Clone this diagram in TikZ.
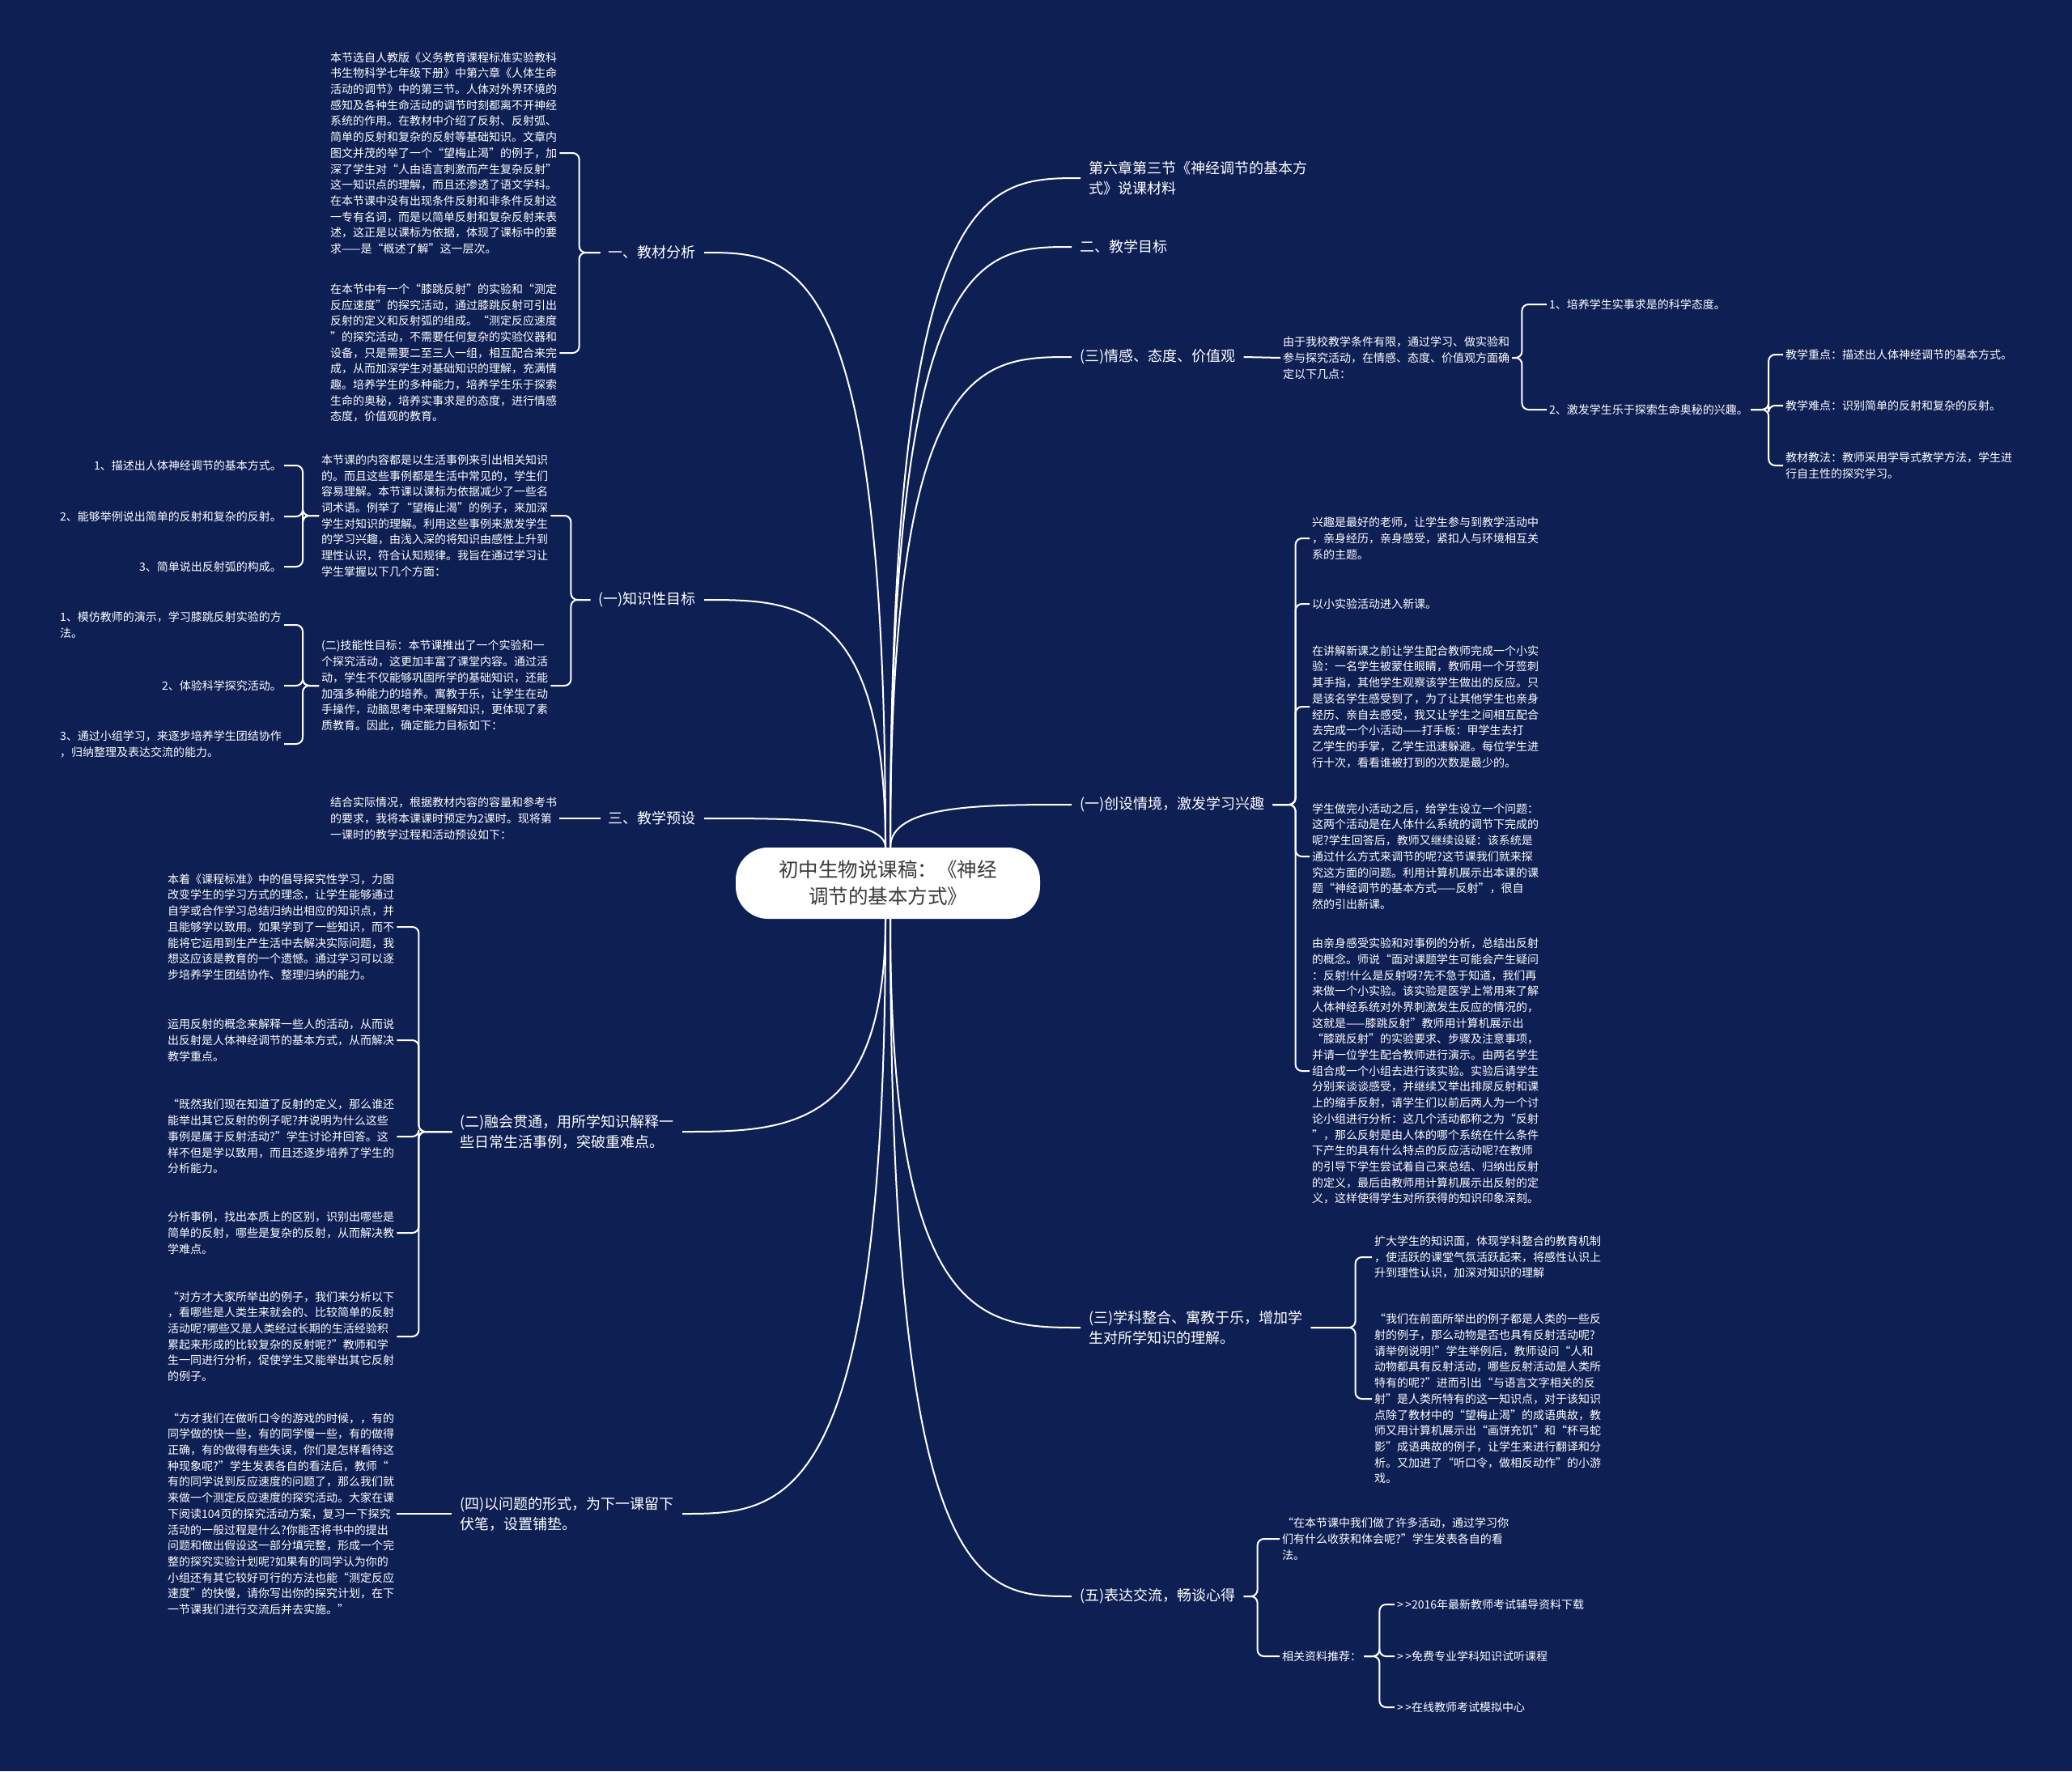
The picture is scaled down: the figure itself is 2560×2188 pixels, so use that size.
\documentclass[tikz,border=0pt]{standalone}
\usepackage{fontspec}
\setmainfont{Noto Sans CJK SC}
\usetikzlibrary{calc}
\definecolor{bg}{RGB}{14,31,84}
\definecolor{ink}{RGB}{58,58,58}

\tikzset{
  txt/.style={text=white, align=left, inner xsep=3pt, inner ysep=0pt, font=\fontsize{14}{19.7}\selectfont},
  lbl/.style={text=white, align=left, inner xsep=10pt, inner ysep=2pt, font=\fontsize{18}{25}\selectfont},
  link/.style={draw=white, line width=2pt},
  fork/.style={link, rounded corners=8pt},
  limb/.style={link, to path={.. controls (\tikztostart |- \tikztotarget) and ($(\tikztostart |- \tikztotarget)!.5!(\tikztotarget)$) .. (\tikztotarget)}}
}

\begin{document}
\begin{tikzpicture}[x=1pt,y=1pt]
\fill[bg] (0,0) rectangle (2560,-2188);

\node[fill=white, rounded corners=40pt, minimum width=376pt, minimum height=88pt, text=ink, align=center, font=\fontsize{24.5}{33}\selectfont] (root) at (1097,-1091) {初中生物说课稿：《神经\\调节的基本方式》};
\coordinate[xshift=-3pt] (ul) at (root.north);
\coordinate[xshift=3pt] (ur) at (root.north);
\coordinate[xshift=-3pt] (dl) at (root.south);
\coordinate[xshift=3pt] (dr) at (root.south);

\node[lbl, anchor=east] (jc) at (870,-312) {一、教材分析};
\node[txt, anchor=west] (jc1) at (405,-189) {本节选自人教版《义务教育课程标准实验教科\\书生物科学七年级下册》中第六章《人体生命\\活动的调节》中的第三节。人体对外界环境的\\感知及各种生命活动的调节时刻都离不开神经\\系统的作用。在教材中介绍了反射、反射弧、\\简单的反射和复杂的反射等基础知识。文章内\\图文并茂的举了一个“望梅止渴”的例子，加\\深了学生对“人由语言刺激而产生复杂反射”\\这一知识点的理解，而且还渗透了语文学科。\\在本节课中没有出现条件反射和非条件反射这\\一专有名词，而是以简单反射和复杂反射来表\\述，这正是以课标为依据，体现了课标中的要\\求——是“概述了解”这一层次。};
\node[txt, anchor=west] (jc2) at (405,-436) {在本节中有一个“膝跳反射”的实验和“测定\\反应速度”的探究活动，通过膝跳反射可引出\\反射的定义和反射弧的组成。“测定反应速度\\”的探究活动，不需要任何复杂的实验仪器和\\设备，只是需要二至三人一组，相互配合来完\\成，从而加深学生对基础知识的理解，充满情\\趣。培养学生的多种能力，培养学生乐于探索\\生命的奥秘，培养实事求是的态度，进行情感\\态度，价值观的教育。};

\node[lbl, anchor=east] (zs) at (870,-741) {(一)知识性目标};
\node[txt, anchor=west] (zs1) at (394,-637) {本节课的内容都是以生活事例来引出相关知识\\的。而且这些事例都是生活中常见的，学生们\\容易理解。本节课以课标为依据减少了一些名\\词术语。例举了“望梅止渴”的例子，来加深\\学生对知识的理解。利用这些事例来激发学生\\的学习兴趣，由浅入深的将知识由感性上升到\\理性认识，符合认知规律。我旨在通过学习让\\学生掌握以下几个方面：};
\node[txt, anchor=west] (zs2) at (394,-847) {(二)技能性目标：本节课推出了一个实验和一\\个探究活动，这更加丰富了课堂内容。通过活\\动，学生不仅能够巩固所学的基础知识，还能\\加强多种能力的培养。寓教于乐，让学生在动\\手操作，动脑思考中来理解知识，更体现了素\\质教育。因此，确定能力目标如下：};
\node[txt, anchor=east] (zs1a) at (351,-575) {1、描述出人体神经调节的基本方式。};
\node[txt, anchor=east] (zs1b) at (351,-638) {2、能够举例说出简单的反射和复杂的反射。};
\node[txt, anchor=east] (zs1c) at (351,-700) {3、简单说出反射弧的构成。};
\node[txt, anchor=east] (zs2a) at (351,-772) {1、模仿教师的演示，学习膝跳反射实验的方\\法。};
\node[txt, anchor=east] (zs2b) at (351,-847) {2、体验科学探究活动。};
\node[txt, anchor=east] (zs2c) at (351,-919) {3、通过小组学习，来逐步培养学生团结协作\\，归纳整理及表达交流的能力。};

\node[lbl, anchor=east] (ys) at (870,-1011) {三、教学预设};
\node[txt, anchor=west] (ys1) at (405,-1011) {结合实际情况，根据教材内容的容量和参考书\\的要求，我将本课课时预定为2课时。现将第\\一课时的教学过程和活动预设如下：};

\node[lbl, anchor=east] (rh) at (843,-1398) {(二)融会贯通，用所学知识解释一\\些日常生活事例，突破重难点。};
\node[txt, anchor=west] (rh1) at (204,-1145) {本着《课程标准》中的倡导探究性学习，力图\\改变学生的学习方式的理念，让学生能够通过\\自学或合作学习总结归纳出相应的知识点，并\\且能够学以致用。如果学到了一些知识，而不\\能将它运用到生产生活中去解决实际问题，我\\想这应该是教育的一个遗憾。通过学习可以逐\\步培养学生团结协作、整理归纳的能力。};
\node[txt, anchor=west] (rh2) at (204,-1285) {运用反射的概念来解释一些人的活动，从而说\\出反射是人体神经调节的基本方式，从而解决\\教学重点。};
\node[txt, anchor=west] (rh3) at (204,-1404) {“既然我们现在知道了反射的定义，那么谁还\\能举出其它反射的例子呢?并说明为什么这些\\事例是属于反射活动?”学生讨论并回答。这\\样不但是学以致用，而且还逐步培养了学生的\\分析能力。};
\node[txt, anchor=west] (rh4) at (204,-1523) {分析事例，找出本质上的区别，识别出哪些是\\简单的反射，哪些是复杂的反射，从而解决教\\学难点。};
\node[txt, anchor=west] (rh5) at (204,-1651) {“对方才大家所举出的例子，我们来分析以下\\，看哪些是人类生来就会的、比较简单的反射\\活动呢?哪些又是人类经过长期的生活经验积\\累起来形成的比较复杂的反射呢?”教师和学\\生一同进行分析，促使学生又能举出其它反射\\的例子。};

\node[lbl, anchor=east] (wt) at (843,-1870) {(四)以问题的形式，为下一课留下\\伏笔，设置铺垫。};
\node[txt, anchor=west] (wt1) at (204,-1870) {“方才我们在做听口令的游戏的时候，，有的\\同学做的快一些，有的同学慢一些，有的做得\\正确，有的做得有些失误，你们是怎样看待这\\种现象呢?”学生发表各自的看法后，教师“\\有的同学说到反应速度的问题了，那么我们就\\来做一个测定反应速度的探究活动。大家在课\\下阅读104页的探究活动方案，复习一下探究\\活动的一般过程是什么?你能否将书中的提出\\问题和做出假设这一部分填完整，形成一个完\\整的探究实验计划呢?如果有的同学认为你的\\小组还有其它较好可行的方法也能“测定反应\\速度”的快慢，请你写出你的探究计划，在下\\一节课我们进行交流后并去实施。”};

\node[lbl, anchor=west] (sc) at (1335,-220) {第六章第三节《神经调节的基本方\\式》说课材料};
\node[lbl, anchor=west] (mb) at (1324,-305) {二、教学目标};

\node[lbl, anchor=west] (qg) at (1324,-441) {(三)情感、态度、价值观};
\node[txt, anchor=west] (qg1) at (1582,-442) {由于我校教学条件有限，通过学习、做实验和\\参与探究活动，在情感、态度、价值观方面确\\定以下几点：};
\node[txt, anchor=west] (qg1a) at (1911,-376) {1、培养学生实事求是的科学态度。};
\node[txt, anchor=west] (qg1b) at (1911,-506) {2、激发学生乐于探索生命奥秘的兴趣。};
\node[txt, anchor=west] (qg1b1) at (2203,-438) {教学重点：描述出人体神经调节的基本方式。};
\node[txt, anchor=west] (qg1b2) at (2203,-501) {教学难点：识别简单的反射和复杂的反射。};
\node[txt, anchor=west] (qg1b3) at (2203,-575) {教材教法：教师采用学导式教学方法，学生进\\行自主性的探究学习。};

\node[lbl, anchor=west] (cs) at (1324,-994) {(一)创设情境，激发学习兴趣};
\node[txt, anchor=west] (cs1) at (1618,-665) {兴趣是最好的老师，让学生参与到教学活动中\\，亲身经历，亲身感受，紧扣人与环境相互关\\系的主题。};
\node[txt, anchor=west] (cs2) at (1618,-746) {以小实验活动进入新课。};
\node[txt, anchor=west] (cs3) at (1618,-873) {在讲解新课之前让学生配合教师完成一个小实\\验：一名学生被蒙住眼睛，教师用一个牙签刺\\其手指，其他学生观察该学生做出的反应。只\\是该名学生感受到了，为了让其他学生也亲身\\经历、亲自去感受，我又让学生之间相互配合\\去完成一个小活动——打手板：甲学生去打\\乙学生的手掌，乙学生迅速躲避。每位学生进\\行十次，看看谁被打到的次数是最少的。};
\node[txt, anchor=west] (cs4) at (1618,-1058) {学生做完小活动之后，给学生设立一个问题：\\这两个活动是在人体什么系统的调节下完成的\\呢?学生回答后，教师又继续设疑：该系统是\\通过什么方式来调节的呢?这节课我们就来探\\究这方面的问题。利用计算机展示出本课的课\\题“神经调节的基本方式——反射”，很自\\然的引出新课。};
\node[txt, anchor=west] (cs5) at (1618,-1323) {由亲身感受实验和对事例的分析，总结出反射\\的概念。师说“面对课题学生可能会产生疑问\\：反射!什么是反射呀?先不急于知道，我们再\\来做一个小实验。该实验是医学上常用来了解\\人体神经系统对外界刺激发生反应的情况的，\\这就是——膝跳反射”教师用计算机展示出\\“膝跳反射”的实验要求、步骤及注意事项，\\并请一位学生配合教师进行演示。由两名学生\\组合成一个小组去进行该实验。实验后请学生\\分别来谈谈感受，并继续又举出排尿反射和课\\上的缩手反射，请学生们以前后两人为一个讨\\论小组进行分析：这几个活动都称之为“反射\\”，那么反射是由人体的哪个系统在什么条件\\下产生的具有什么特点的反应活动呢?在教师\\的引导下学生尝试着自己来总结、归纳出反射\\的定义，最后由教师用计算机展示出反射的定\\义，这样使得学生对所获得的知识印象深刻。};

\node[lbl, anchor=west] (xk) at (1335,-1640) {(三)学科整合、寓教于乐，增加学\\生对所学知识的理解。};
\node[txt, anchor=west] (xk1) at (1695,-1553) {扩大学生的知识面，体现学科整合的教育机制\\，使活跃的课堂气氛活跃起来，将感性认识上\\升到理性认识，加深对知识的理解};
\node[txt, anchor=west] (xk2) at (1695,-1728) {“我们在前面所举出的例子都是人类的一些反\\射的例子，那么动物是否也具有反射活动呢?\\请举例说明!”学生举例后，教师设问“人和\\动物都具有反射活动，哪些反射活动是人类所\\特有的呢?”进而引出“与语言文字相关的反\\射”是人类所特有的这一知识点，对于该知识\\点除了教材中的“望梅止渴”的成语典故，教\\师又用计算机展示出“画饼充饥”和“杯弓蛇\\影”成语典故的例子，让学生来进行翻译和分\\析。又加进了“听口令，做相反动作”的小游\\戏。};

\node[lbl, anchor=west] (jl) at (1324,-1972) {(五)表达交流，畅谈心得};
\node[txt, anchor=west] (jl1) at (1581,-1901) {“在本节课中我们做了许多活动，通过学习你\\们有什么收获和体会呢?”学生发表各自的看\\法。};
\node[txt, anchor=west] (jl2) at (1581,-2046) {相关资料推荐：};
\node[txt, anchor=west] (jl2a) at (1723,-1982) {>{}\,>{}2016年最新教师考试辅导资料下载};
\node[txt, anchor=west] (jl2b) at (1723,-2046) {>{}\,>{}免费专业学科知识试听课程};
\node[txt, anchor=west] (jl2c) at (1723,-2109) {>{}\,>{}在线教师考试模拟中心};

\foreach \nd in {jc,zs,ys} \draw[limb] (ul) to (\nd.east);
\foreach \nd in {rh,wt} \draw[limb] (dl) to (\nd.east);
\foreach \nd in {sc,mb,qg,cs} \draw[limb] (ur) to (\nd.west);
\foreach \nd in {xk,jl} \draw[limb] (dr) to (\nd.west);

\foreach \ch in {jc1,jc2} \draw[fork] (jc.west) -- ++(-26,0) |- (\ch.east);
\foreach \ch in {zs1,zs2} \draw[fork] (zs.west) -- ++(-24,0) |- (\ch.east);
\foreach \ch in {zs1a,zs1b,zs1c} \draw[fork] (zs1.west) -- ++(-20,0) |- (\ch.east);
\foreach \ch in {zs2a,zs2b,zs2c} \draw[fork] (zs2.west) -- ++(-20,0) |- (\ch.east);
\draw[link] (ys.west) -- (ys1.east);
\foreach \ch in {rh1,rh2,rh3,rh4,rh5} \draw[fork] (rh.west) -- ++(-41,0) |- (\ch.east);
\draw[link] (wt.west) -- (wt1.east);
\draw[link] (qg.east) -- (qg1.west);
\foreach \ch in {qg1a,qg1b} \draw[fork] (qg1.east) -- ++(12,0) |- (\ch.west);
\foreach \ch in {qg1b1,qg1b2,qg1b3} \draw[fork] (qg1b.east) -- ++(22,0) |- (\ch.west);
\foreach \ch in {cs1,cs2,cs3,cs4,cs5} \draw[fork] (cs.east) -- ++(28,0) |- (\ch.west);
\foreach \ch in {xk1,xk2} \draw[fork] (xk.east) -- ++(55,0) |- (\ch.west);
\foreach \ch in {jl1,jl2} \draw[fork] (jl.east) -- ++(17,0) |- (\ch.west);
\foreach \ch in {jl2a,jl2b,jl2c} \draw[fork] (jl2.east) -- ++(19,0) |- (\ch.west);
\end{tikzpicture}
\end{document}
